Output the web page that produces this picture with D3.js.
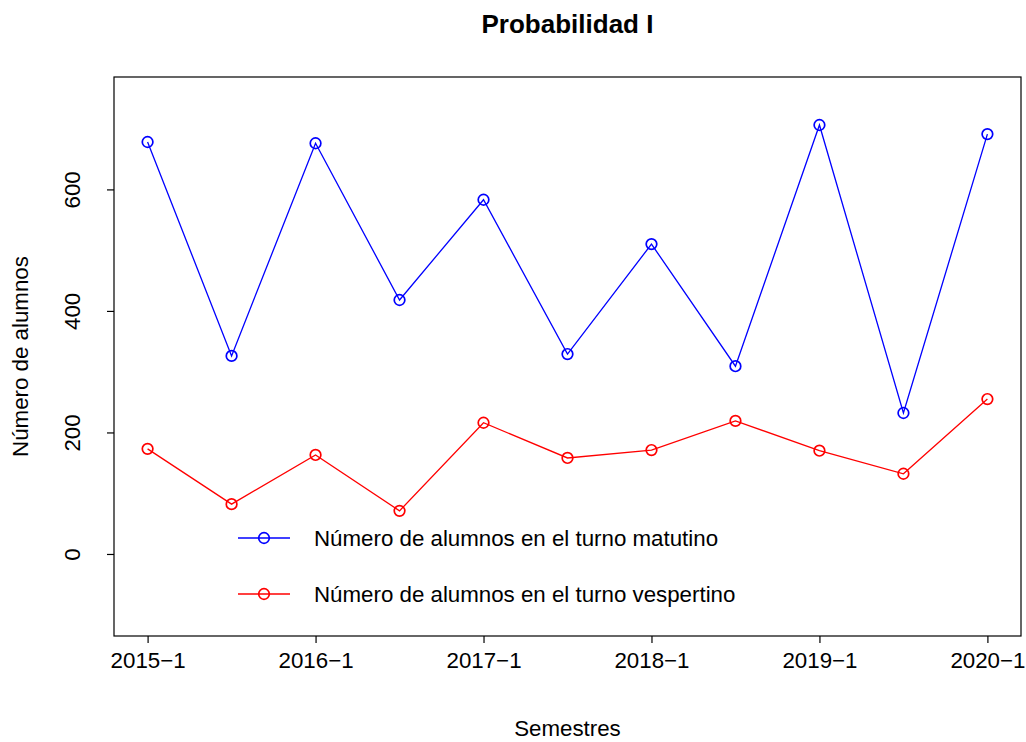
<!DOCTYPE html>
<html>
<head>
<meta charset="utf-8">
<script src="https://cdn.jsdelivr.net/npm/d3@7"></script>
<style>
  body { margin: 0; background: #fff; }
  svg { font-family: "Liberation Sans", Arial, sans-serif; }
</style>
</head>
<body>
<svg></svg>
<script>
var width = 1026;
var height = 742;

var semestres = ["2015-1", "2015-2", "2016-1", "2016-2", "2017-1", "2017-2",
  "2018-1", "2018-2", "2019-1", "2019-2", "2020-1"];
var matutino = [678, 326, 676, 418, 583, 329, 510, 309, 706, 232, 691];
var vespertino = [173, 82, 163, 71, 216, 158, 171, 219, 170, 132, 255];
var xTickLabels = ["2015\u22121", "2016\u22121", "2017\u22121", "2018\u22121", "2019\u22121", "2020\u22121"];
var yTicks = [0, 200, 400, 600];
var legendLabels = ["Número de alumnos en el turno matutino", "Número de alumnos en el turno vespertino"];

var fs = 22.3;

var svg = d3.select("svg")
  .attr("width", width)
  .attr("height", height);

var padding = { top: 77, right: 5, bottom: 106, left: 114 };

var xScale = d3.scaleLinear()
  .domain([0.6, 11.4])
  .range([padding.left, width - padding.right]);

var yScale = d3.scaleLinear()
  .domain([-135, 785])
  .range([height - padding.bottom, padding.top]);

// box
svg.append("rect")
  .attr("x", padding.left)
  .attr("y", padding.top)
  .attr("width", width - padding.right - padding.left)
  .attr("height", height - padding.bottom - padding.top)
  .attr("fill", "none")
  .attr("stroke", "black")
  .attr("stroke-width", 1.2);

// x axis: ticks only at the first semester of each year
var xAxis = d3.axisBottom(xScale)
  .tickValues([1, 3, 5, 7, 9, 11])
  .tickFormat((d, i) => xTickLabels[i])
  .tickSize(7)
  .tickPadding(9);

var gx = svg.append("g")
  .attr("transform", "translate(0," + (height - padding.bottom) + ")")
  .call(xAxis);
gx.select(".domain").remove();
gx.selectAll("line").attr("stroke-width", 1.2);
gx.selectAll("text").attr("font-size", fs).attr("fill", "black");

var yAxis = d3.axisLeft(yScale)
  .tickValues(yTicks)
  .tickSize(7);

var gy = svg.append("g")
  .attr("transform", "translate(" + padding.left + ",0)")
  .call(yAxis);
gy.select(".domain").remove();
gy.selectAll("line").attr("stroke-width", 1.2);
gy.selectAll("text")
  .attr("font-size", fs)
  .attr("fill", "black")
  .attr("text-anchor", "middle")
  .attr("x", 0)
  .attr("dy", 0)
  .attr("transform", "translate(-42,0) rotate(-90)")
  .attr("dominant-baseline", "central");

// titles
svg.append("text")
  .attr("x", (padding.left + width - padding.right) / 2)
  .attr("y", 33)
  .attr("text-anchor", "middle")
  .attr("font-size", 26)
  .attr("font-weight", "bold")
  .text("Probabilidad I");

svg.append("text")
  .attr("x", (padding.left + width - padding.right) / 2)
  .attr("y", 736)
  .attr("text-anchor", "middle")
  .attr("font-size", fs)
  .text("Semestres");

svg.append("text")
  .attr("transform", "translate(28," + (padding.top + height - padding.bottom) / 2 + ") rotate(-90)")
  .attr("text-anchor", "middle")
  .attr("font-size", fs)
  .text("Número de alumnos");

var series = [
  { values: matutino, color: "blue" },
  { values: vespertino, color: "red" }
];

var line = d3.line()
  .x((d, i) => xScale(i + 1))
  .y(d => yScale(d));

series.forEach(function(s) {
  svg.append("path")
    .datum(s.values)
    .attr("d", line)
    .attr("fill", "none")
    .attr("stroke", s.color)
    .attr("stroke-width", 1.3);

  svg.selectAll(null)
    .data(s.values)
    .enter()
    .append("circle")
    .attr("cx", (d, i) => xScale(i + 1))
    .attr("cy", d => yScale(d))
    .attr("r", 5.3)
    .attr("fill", "none")
    .attr("stroke", s.color)
    .attr("stroke-width", 1.7);
});

// legend (no box)
var legend = svg.append("g");
series.forEach(function(s, i) {
  var y = 538 + i * 56;
  legend.append("line")
    .attr("x1", 238).attr("x2", 290)
    .attr("y1", y).attr("y2", y)
    .attr("stroke", s.color)
    .attr("stroke-width", 1.3);
  legend.append("circle")
    .attr("cx", 264).attr("cy", y)
    .attr("r", 5.3)
    .attr("fill", "none")
    .attr("stroke", s.color)
    .attr("stroke-width", 1.7);
  legend.append("text")
    .attr("x", 314)
    .attr("y", y)
    .attr("dy", "0.35em")
    .attr("font-size", fs)
    .text(legendLabels[i]);
});
</script>
</body>
</html>
